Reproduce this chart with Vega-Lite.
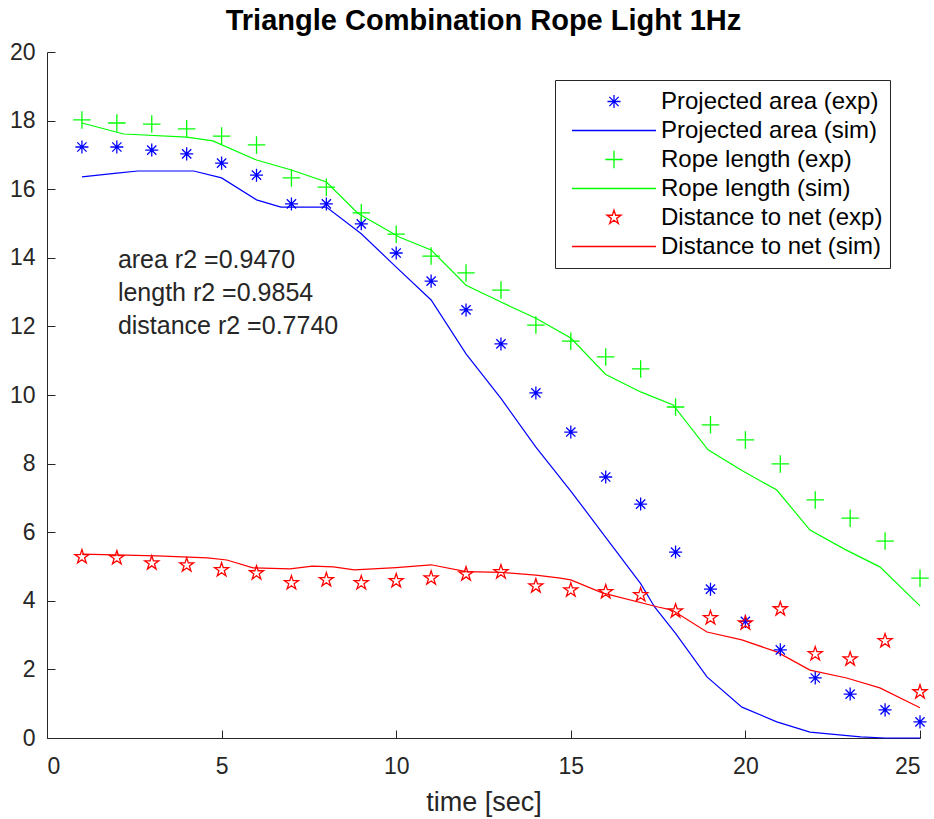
{
  "$schema": "https://vega.github.io/schema/vega-lite/v6.json",
  "width": 873,
  "height": 686,
  "autosize": {"type": "none"},
  "padding": {"left": 47, "top": 52, "right": 14, "bottom": 81},
  "background": "white",
  "title": {"text": "Triangle Combination Rope Light 1Hz", "fontSize": 29, "fontWeight": "bold", "color": "#000000", "font": "Liberation Sans", "anchor": "middle", "offset": 5},
  "config": {
    "font": "Liberation Sans",
    "view": {"stroke": null},
    "axis": {"grid": false, "labelFontSize": 23, "labelColor": "#262626", "titleFontSize": 27, "titleFontWeight": "normal", "titleColor": "#262626", "domainColor": "#262626", "tickColor": "#262626", "tickSize": -8, "domainWidth": 1, "tickWidth": 1},
    "axisX": {"labelPadding": 25, "titlePadding": 11},
    "axisY": {"labelPadding": 20},
    "legend": {"labelFontSize": 24, "labelColor": "#000000", "labelFont": "Liberation Sans"}
  },
  "datasets": {
    "sim": [
      {"t": 1, "v": 16.36, "series": "Projected area (sim)"},
      {"t": 2, "v": 16.47, "series": "Projected area (sim)"},
      {"t": 2.6, "v": 16.53, "series": "Projected area (sim)"},
      {"t": 4.2, "v": 16.53, "series": "Projected area (sim)"},
      {"t": 5, "v": 16.33, "series": "Projected area (sim)"},
      {"t": 6, "v": 15.69, "series": "Projected area (sim)"},
      {"t": 6.7, "v": 15.48, "series": "Projected area (sim)"},
      {"t": 8, "v": 15.48, "series": "Projected area (sim)"},
      {"t": 9, "v": 14.7, "series": "Projected area (sim)"},
      {"t": 10, "v": 13.73, "series": "Projected area (sim)"},
      {"t": 11, "v": 12.77, "series": "Projected area (sim)"},
      {"t": 12, "v": 11.2, "series": "Projected area (sim)"},
      {"t": 13, "v": 9.9, "series": "Projected area (sim)"},
      {"t": 14, "v": 8.48, "series": "Projected area (sim)"},
      {"t": 15, "v": 7.2, "series": "Projected area (sim)"},
      {"t": 16, "v": 5.85, "series": "Projected area (sim)"},
      {"t": 17, "v": 4.5, "series": "Projected area (sim)"},
      {"t": 17.4, "v": 3.82, "series": "Projected area (sim)"},
      {"t": 18, "v": 3.05, "series": "Projected area (sim)"},
      {"t": 18.9, "v": 1.78, "series": "Projected area (sim)"},
      {"t": 19.9, "v": 0.9, "series": "Projected area (sim)"},
      {"t": 20.9, "v": 0.47, "series": "Projected area (sim)"},
      {"t": 21.85, "v": 0.17, "series": "Projected area (sim)"},
      {"t": 23.3, "v": 0.03, "series": "Projected area (sim)"},
      {"t": 24, "v": 0, "series": "Projected area (sim)"},
      {"t": 25, "v": 0, "series": "Projected area (sim)"},
      {"t": 1, "v": 17.93, "series": "Rope length (sim)"},
      {"t": 2.2, "v": 17.61, "series": "Rope length (sim)"},
      {"t": 4, "v": 17.52, "series": "Rope length (sim)"},
      {"t": 4.75, "v": 17.41, "series": "Rope length (sim)"},
      {"t": 6, "v": 16.85, "series": "Rope length (sim)"},
      {"t": 7, "v": 16.56, "series": "Rope length (sim)"},
      {"t": 8, "v": 16.21, "series": "Rope length (sim)"},
      {"t": 8.9, "v": 15.3, "series": "Rope length (sim)"},
      {"t": 10.1, "v": 14.6, "series": "Rope length (sim)"},
      {"t": 11, "v": 14.23, "series": "Rope length (sim)"},
      {"t": 12, "v": 13.2, "series": "Rope length (sim)"},
      {"t": 13, "v": 12.71, "series": "Rope length (sim)"},
      {"t": 14, "v": 12.24, "series": "Rope length (sim)"},
      {"t": 15, "v": 11.66, "series": "Rope length (sim)"},
      {"t": 16, "v": 10.6, "series": "Rope length (sim)"},
      {"t": 17, "v": 10.09, "series": "Rope length (sim)"},
      {"t": 17.93, "v": 9.71, "series": "Rope length (sim)"},
      {"t": 18.93, "v": 8.4, "series": "Rope length (sim)"},
      {"t": 19.9, "v": 7.8, "series": "Rope length (sim)"},
      {"t": 20.9, "v": 7.23, "series": "Rope length (sim)"},
      {"t": 21.85, "v": 6.06, "series": "Rope length (sim)"},
      {"t": 22.85, "v": 5.5, "series": "Rope length (sim)"},
      {"t": 23.85, "v": 4.99, "series": "Rope length (sim)"},
      {"t": 25, "v": 3.85, "series": "Rope length (sim)"},
      {"t": 1, "v": 5.36, "series": "Distance to net (sim)"},
      {"t": 3.15, "v": 5.31, "series": "Distance to net (sim)"},
      {"t": 4.6, "v": 5.25, "series": "Distance to net (sim)"},
      {"t": 5.15, "v": 5.19, "series": "Distance to net (sim)"},
      {"t": 5.9, "v": 4.96, "series": "Distance to net (sim)"},
      {"t": 6.96, "v": 4.93, "series": "Distance to net (sim)"},
      {"t": 7.6, "v": 5.01, "series": "Distance to net (sim)"},
      {"t": 8.2, "v": 4.99, "series": "Distance to net (sim)"},
      {"t": 8.8, "v": 4.9, "series": "Distance to net (sim)"},
      {"t": 10, "v": 4.97, "series": "Distance to net (sim)"},
      {"t": 11, "v": 5.05, "series": "Distance to net (sim)"},
      {"t": 12, "v": 4.85, "series": "Distance to net (sim)"},
      {"t": 13, "v": 4.83, "series": "Distance to net (sim)"},
      {"t": 14, "v": 4.75, "series": "Distance to net (sim)"},
      {"t": 14.7, "v": 4.66, "series": "Distance to net (sim)"},
      {"t": 15, "v": 4.61, "series": "Distance to net (sim)"},
      {"t": 15.9, "v": 4.23, "series": "Distance to net (sim)"},
      {"t": 17.5, "v": 3.82, "series": "Distance to net (sim)"},
      {"t": 17.9, "v": 3.73, "series": "Distance to net (sim)"},
      {"t": 18.9, "v": 3.09, "series": "Distance to net (sim)"},
      {"t": 19.9, "v": 2.86, "series": "Distance to net (sim)"},
      {"t": 20.9, "v": 2.51, "series": "Distance to net (sim)"},
      {"t": 21.85, "v": 1.98, "series": "Distance to net (sim)"},
      {"t": 22.9, "v": 1.75, "series": "Distance to net (sim)"},
      {"t": 23.85, "v": 1.46, "series": "Distance to net (sim)"},
      {"t": 25, "v": 0.88, "series": "Distance to net (sim)"}
    ],
    "exp": [
      {"t": 1, "v": 17.23, "series": "Projected area (exp)"},
      {"t": 2, "v": 17.23, "series": "Projected area (exp)"},
      {"t": 3, "v": 17.14, "series": "Projected area (exp)"},
      {"t": 4, "v": 17.03, "series": "Projected area (exp)"},
      {"t": 5, "v": 16.76, "series": "Projected area (exp)"},
      {"t": 6, "v": 16.41, "series": "Projected area (exp)"},
      {"t": 7, "v": 15.57, "series": "Projected area (exp)"},
      {"t": 8, "v": 15.57, "series": "Projected area (exp)"},
      {"t": 9, "v": 14.99, "series": "Projected area (exp)"},
      {"t": 10, "v": 14.14, "series": "Projected area (exp)"},
      {"t": 11, "v": 13.32, "series": "Projected area (exp)"},
      {"t": 12, "v": 12.48, "series": "Projected area (exp)"},
      {"t": 13, "v": 11.49, "series": "Projected area (exp)"},
      {"t": 14, "v": 10.06, "series": "Projected area (exp)"},
      {"t": 15, "v": 8.92, "series": "Projected area (exp)"},
      {"t": 16, "v": 7.61, "series": "Projected area (exp)"},
      {"t": 17, "v": 6.82, "series": "Projected area (exp)"},
      {"t": 18, "v": 5.42, "series": "Projected area (exp)"},
      {"t": 19, "v": 4.34, "series": "Projected area (exp)"},
      {"t": 20, "v": 3.4, "series": "Projected area (exp)"},
      {"t": 21, "v": 2.57, "series": "Projected area (exp)"},
      {"t": 22, "v": 1.75, "series": "Projected area (exp)"},
      {"t": 23, "v": 1.28, "series": "Projected area (exp)"},
      {"t": 24, "v": 0.82, "series": "Projected area (exp)"},
      {"t": 25, "v": 0.47, "series": "Projected area (exp)"},
      {"t": 1, "v": 18.02, "series": "Rope length (exp)"},
      {"t": 2, "v": 17.93, "series": "Rope length (exp)"},
      {"t": 3, "v": 17.9, "series": "Rope length (exp)"},
      {"t": 4, "v": 17.76, "series": "Rope length (exp)"},
      {"t": 5, "v": 17.55, "series": "Rope length (exp)"},
      {"t": 6, "v": 17.29, "series": "Rope length (exp)"},
      {"t": 7, "v": 16.33, "series": "Rope length (exp)"},
      {"t": 8, "v": 16.06, "series": "Rope length (exp)"},
      {"t": 9, "v": 15.31, "series": "Rope length (exp)"},
      {"t": 10, "v": 14.69, "series": "Rope length (exp)"},
      {"t": 11, "v": 14.05, "series": "Rope length (exp)"},
      {"t": 12, "v": 13.56, "series": "Rope length (exp)"},
      {"t": 13, "v": 13.06, "series": "Rope length (exp)"},
      {"t": 14, "v": 12.04, "series": "Rope length (exp)"},
      {"t": 15, "v": 11.57, "series": "Rope length (exp)"},
      {"t": 16, "v": 11.11, "series": "Rope length (exp)"},
      {"t": 17, "v": 10.76, "series": "Rope length (exp)"},
      {"t": 18, "v": 9.65, "series": "Rope length (exp)"},
      {"t": 19, "v": 9.13, "series": "Rope length (exp)"},
      {"t": 20, "v": 8.69, "series": "Rope length (exp)"},
      {"t": 21, "v": 7.99, "series": "Rope length (exp)"},
      {"t": 22, "v": 6.94, "series": "Rope length (exp)"},
      {"t": 23, "v": 6.41, "series": "Rope length (exp)"},
      {"t": 24, "v": 5.74, "series": "Rope length (exp)"},
      {"t": 25, "v": 4.66, "series": "Rope length (exp)"},
      {"t": 1, "v": 5.28, "series": "Distance to net (exp)"},
      {"t": 2, "v": 5.25, "series": "Distance to net (exp)"},
      {"t": 3, "v": 5.1, "series": "Distance to net (exp)"},
      {"t": 4, "v": 5.04, "series": "Distance to net (exp)"},
      {"t": 5, "v": 4.9, "series": "Distance to net (exp)"},
      {"t": 6, "v": 4.81, "series": "Distance to net (exp)"},
      {"t": 7, "v": 4.52, "series": "Distance to net (exp)"},
      {"t": 8, "v": 4.61, "series": "Distance to net (exp)"},
      {"t": 9, "v": 4.52, "series": "Distance to net (exp)"},
      {"t": 10, "v": 4.58, "series": "Distance to net (exp)"},
      {"t": 11, "v": 4.66, "series": "Distance to net (exp)"},
      {"t": 12, "v": 4.78, "series": "Distance to net (exp)"},
      {"t": 13, "v": 4.84, "series": "Distance to net (exp)"},
      {"t": 14, "v": 4.43, "series": "Distance to net (exp)"},
      {"t": 15, "v": 4.31, "series": "Distance to net (exp)"},
      {"t": 16, "v": 4.26, "series": "Distance to net (exp)"},
      {"t": 17, "v": 4.17, "series": "Distance to net (exp)"},
      {"t": 18, "v": 3.7, "series": "Distance to net (exp)"},
      {"t": 19, "v": 3.5, "series": "Distance to net (exp)"},
      {"t": 20, "v": 3.35, "series": "Distance to net (exp)"},
      {"t": 21, "v": 3.76, "series": "Distance to net (exp)"},
      {"t": 22, "v": 2.45, "series": "Distance to net (exp)"},
      {"t": 23, "v": 2.3, "series": "Distance to net (exp)"},
      {"t": 24, "v": 2.83, "series": "Distance to net (exp)"},
      {"t": 25, "v": 1.34, "series": "Distance to net (exp)"}
    ],
    "notes": [
      {"t": 2.03, "v": 13.94, "label": "area r2 =0.9470"},
      {"t": 2.03, "v": 12.98, "label": "length r2 =0.9854"},
      {"t": 2.03, "v": 12.0, "label": "distance r2 =0.7740"}
    ]
  },
  "encoding": {
    "x": {"field": "t", "type": "quantitative", "scale": {"domain": [0, 25], "nice": false, "zero": false}, "axis": {"values": [0, 5, 10, 15, 20, 25], "title": "time [sec]"}},
    "y": {"field": "v", "type": "quantitative", "scale": {"domain": [0, 20], "nice": false}, "axis": {"values": [0, 2, 4, 6, 8, 10, 12, 14, 16, 18, 20], "title": null}}
  },
  "layer": [
    {
      "data": {"name": "sim"},
      "mark": {"type": "line", "strokeWidth": 1.2, "interpolate": "linear"},
      "encoding": {
        "color": {"field": "series", "type": "nominal", "sort": null,
          "scale": {"domain": ["Projected area (exp)", "Projected area (sim)", "Rope length (exp)", "Rope length (sim)", "Distance to net (exp)", "Distance to net (sim)"], "range": ["#0000ff", "#0000ff", "#00ff00", "#00ff00", "#ff0000", "#ff0000"]},
          "legend": {"title": null, "orient": "none", "legendX": 508, "legendY": 28, "symbolSize": 196, "symbolStrokeWidth": 1.3, "symbolOffset": 40, "labelOffset": 35, "padding": 7, "rowPadding": 0, "clipHeight": 29, "strokeColor": "#262626", "fillColor": "white", "labelFontSize": 24, "labelLimit": 400}
        }
      }
    },
    {
      "data": {"name": "exp"},
      "mark": {"type": "point", "filled": false, "size": 196, "strokeWidth": 1.3, "opacity": 1},
      "encoding": {
        "color": {"field": "series", "type": "nominal", "sort": null},
        "shape": {"field": "series", "type": "nominal", "sort": null,
          "scale": {"domain": ["Projected area (exp)", "Projected area (sim)", "Rope length (exp)", "Rope length (sim)", "Distance to net (exp)", "Distance to net (sim)"], "range": ["M-0.93,0H0.93M0,-0.93V0.93M-0.66,-0.66L0.66,0.66M-0.66,0.66L0.66,-0.66", "M-6,0H6", "M-1.25,0H1.25M0,-1.25V1.25", "M-6,0H6", "M0,-1.05L0.236,-0.324L1,-0.324L0.381,0.124L0.617,0.85L0,0.401L-0.617,0.85L-0.381,0.124L-1,-0.324L-0.236,-0.324Z", "M-6,0H6"]},
          "legend": {"title": null}
        }
      }
    },
    {
      "data": {"name": "notes"},
      "mark": {"type": "text", "align": "left", "baseline": "middle", "fontSize": 25, "color": "#262626", "font": "Liberation Sans"},
      "encoding": {"text": {"field": "label", "type": "nominal"}}
    }
  ]
}
